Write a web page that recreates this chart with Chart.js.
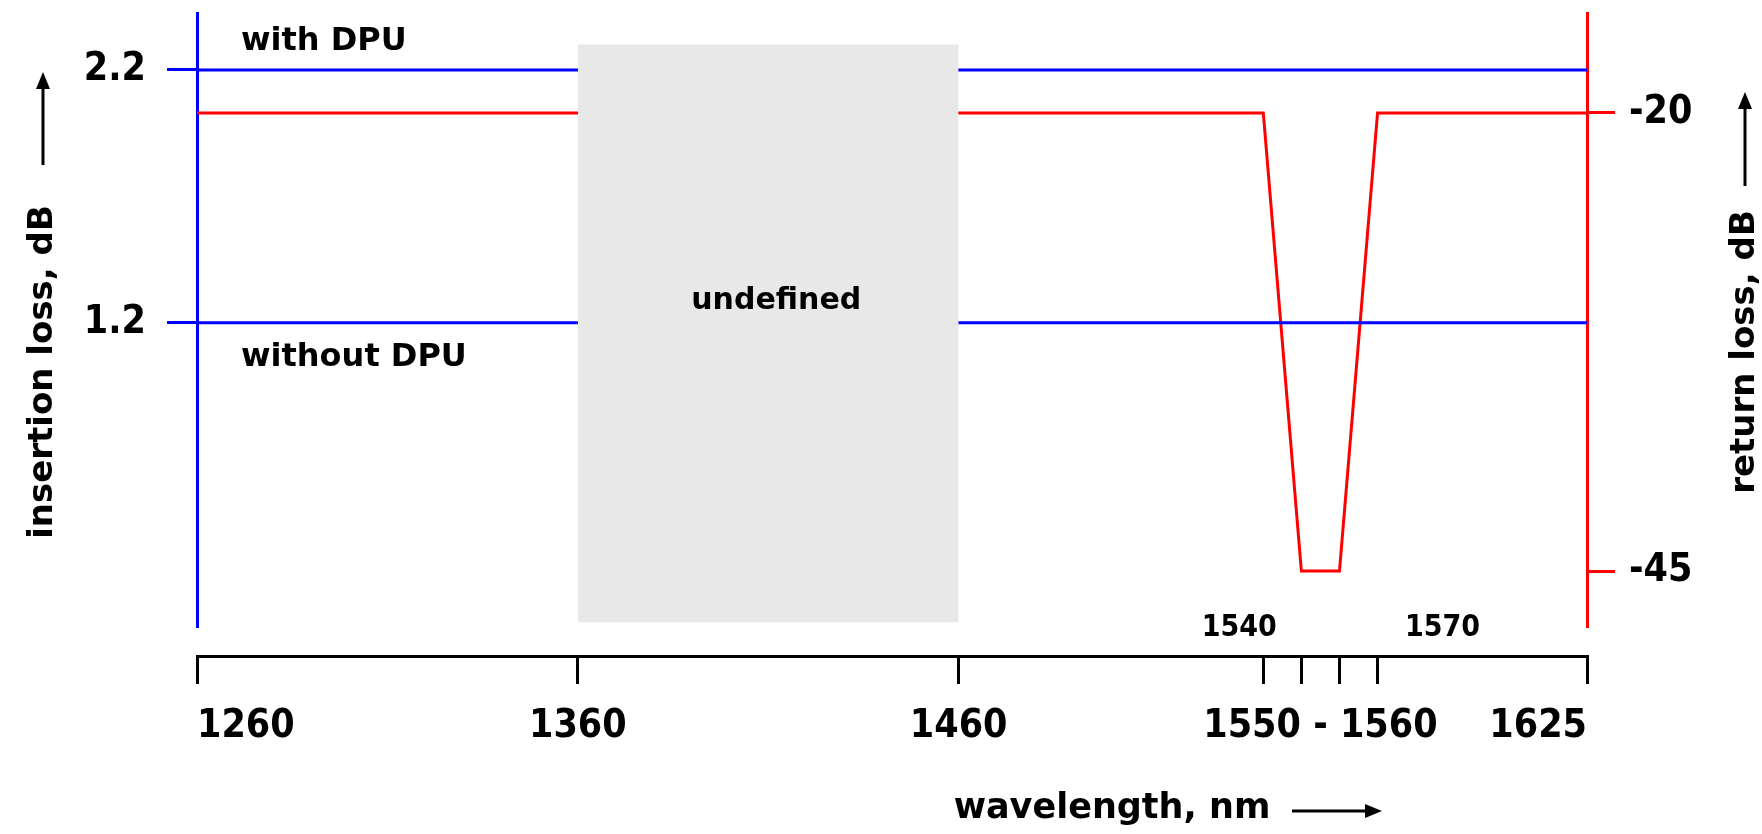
<!DOCTYPE html>
<html><head><meta charset="utf-8">
<script src="https://cdn.jsdelivr.net/npm/chart.js@4.4.1/dist/chart.umd.min.js"></script>
<style>html,body{margin:0;padding:0;background:#fff;overflow:hidden}canvas{display:block}</style>
</head><body>
<canvas id="c" width="1762" height="834" style="width:1762px;height:834px"></canvas>
<script>
// ---- data ----
const wavelengthRange = [1260, 1625];
const ilWavelengths = [1260, 1625];
const ilWithDpu = [2.2, 2.2];
const ilWithoutDpu = [1.2, 1.2];
const rlWavelengths = [1260, 1540, 1550, 1560, 1570, 1625];
const rlValues = [-20, -20, -45, -45, -20, -20];
const undefinedBand = [1360, 1460];
const undefinedTop = [2.30, 2.30];
const xTicks = [1260, 1360, 1460, 1540, 1550, 1555, 1560, 1570, 1625];
const xTickLabels = ['1260', '1360', '1460', '', '', '1550 - 1560', '', '', '1625'];
const bandEdgeLabels = ['1540', '1570'];
const ilTicks = [1.2, 2.2];
const rlTicks = [-45, -20];
const seriesNames = ['with DPU', 'without DPU', 'return loss', 'undefined'];

const BLUE = '#0000ff', RED = '#ff0000', GRAY = '#e8e8e8';
const NUM_FONT = '"DejaVu Sans Condensed", "Open Sans", sans-serif';
const WORD_FONT = '"DejaVu Sans", sans-serif';

function pts(xs, ys) { return xs.map((v, i) => ({x: v, y: ys[i]})); }

function arrow(ctx, x1, y1, x2, y2) {
  const ang = Math.atan2(y2 - y1, x2 - x1);
  const hl = 17, hw = 7;
  const bx = x2 - hl * Math.cos(ang), by = y2 - hl * Math.sin(ang);
  ctx.beginPath(); ctx.moveTo(x1, y1); ctx.lineTo(bx, by);
  ctx.lineWidth = 3; ctx.strokeStyle = '#000'; ctx.stroke();
  ctx.beginPath();
  ctx.moveTo(x2, y2);
  ctx.lineTo(bx + hw * Math.sin(ang), by - hw * Math.cos(ang));
  ctx.lineTo(bx - hw * Math.sin(ang), by + hw * Math.cos(ang));
  ctx.closePath(); ctx.fillStyle = '#000'; ctx.fill();
}

const annotations = {
  id: 'annotations',
  afterDraw(chart) {
    const {ctx, scales} = chart;
    const x = scales.x, yL = scales.yL;
    const ca = chart.chartArea;
    ctx.save();
    ctx.fillStyle = '#000';
    ctx.font = 'bold 32px ' + WORD_FONT;
    ctx.textAlign = 'left'; ctx.textBaseline = 'alphabetic';
    const lx = x.getPixelForValue(wavelengthRange[0]) + 44;
    ctx.fillText(seriesNames[0], lx, yL.getPixelForValue(ilWithDpu[0]) - 20);
    ctx.fillText(seriesNames[1], lx, yL.getPixelForValue(ilWithoutDpu[0]) + 43);
    // undefined band label
    ctx.font = 'bold 30px ' + WORD_FONT;
    ctx.textAlign = 'center'; ctx.textBaseline = 'middle';
    ctx.fillText(seriesNames[3], x.getPixelForValue((undefinedBand[0] + undefinedBand[1]) / 2) + 8, yL.getPixelForValue(ilWithoutDpu[0]) - 21);
    // band edge labels above axis
    ctx.font = 'bold 30px ' + NUM_FONT;
    ctx.fillText(bandEdgeLabels[0], x.getPixelForValue(1540) - 24, ca.bottom + 2);
    ctx.fillText(bandEdgeLabels[1], x.getPixelForValue(1570) + 65, ca.bottom + 2);
    // axis titles
    ctx.font = 'bold 34px ' + WORD_FONT;
    ctx.save(); ctx.translate(43, 372); ctx.rotate(-Math.PI / 2);
    ctx.fillText('insertion loss, dB', 0, 0); ctx.restore();
    arrow(ctx, 43, 165, 43, 72);
    ctx.save(); ctx.translate(1745, 352); ctx.rotate(-Math.PI / 2);
    ctx.fillText('return loss, dB', 0, 0); ctx.restore();
    arrow(ctx, 1745, 186, 1745, 92);
    ctx.font = 'bold 35px ' + WORD_FONT;
    ctx.fillText('wavelength, nm', 1112, 809);
    arrow(ctx, 1292, 811, 1382, 811);
    ctx.restore();
  }
};

function noPad(s) { s.paddingTop = 0; s.paddingBottom = 0; s.paddingLeft = 0; s.paddingRight = 0; }

const tickFont = {family: NUM_FONT, weight: 'bold', size: 39};

function build() {
  new Chart(document.getElementById('c'), {
    type: 'line',
    data: {
      datasets: [
        {label: seriesNames[3], data: pts(undefinedBand, undefinedTop), yAxisID: 'yL',
         fill: {value: 0.015}, backgroundColor: GRAY, borderWidth: 0, borderColor: GRAY, pointRadius: 0, order: 0},
        {label: seriesNames[0], data: pts(ilWavelengths, ilWithDpu), yAxisID: 'yL',
         borderColor: BLUE, borderWidth: 3, pointRadius: 0, fill: false, order: 1},
        {label: seriesNames[1], data: pts(ilWavelengths, ilWithoutDpu), yAxisID: 'yL',
         borderColor: BLUE, borderWidth: 3, pointRadius: 0, fill: false, order: 1},
        {label: seriesNames[2], data: pts(rlWavelengths, rlValues), yAxisID: 'yR',
         borderColor: RED, borderWidth: 3, pointRadius: 0, fill: false, order: 1, borderJoinStyle: 'miter'}
      ]
    },
    options: {
      responsive: false,
      animation: false,
      devicePixelRatio: 1,
      layout: {padding: {top: 13, bottom: 208, left: 0, right: 0}},
      plugins: {legend: {display: false}, tooltip: {enabled: false}},
      elements: {line: {tension: 0}},
      scales: {
        x: {
          type: 'linear', axis: 'x',
          min: wavelengthRange[0], max: wavelengthRange[1],
          position: {yL: -0.12},
          afterBuildTicks: s => { s.ticks = xTicks.map(v => ({value: v})); },
          afterFit: noPad,
          ticks: {
            callback: (v) => xTickLabels[xTicks.indexOf(v)],
            autoSkip: false, maxRotation: 0, minRotation: 0, align: 'inner',
            color: '#000', padding: 21, font: tickFont
          },
          grid: {
            drawOnChartArea: false, tickLength: 26, lineWidth: 3, tickWidth: 3,
            tickColor: c => (c.tick && c.tick.value === 1555) ? 'rgba(0,0,0,0)' : '#000'
          },
          border: {display: true, color: '#000', width: 3}
        },
        yL: {
          type: 'linear', position: 'left', min: 0, max: 2.425,
          afterBuildTicks: s => { s.ticks = ilTicks.map(v => ({value: v})); },
          afterFit: s => { s.width = 197; noPad(s); },
          ticks: {callback: v => v.toFixed(1), color: '#000', padding: 21, font: tickFont},
          grid: {drawOnChartArea: false, tickLength: 30, lineWidth: 3, tickWidth: 3, tickColor: BLUE},
          border: {display: true, color: BLUE, width: 3}
        },
        yR: {
          type: 'linear', position: 'right', min: -48, max: -14.55,
          afterBuildTicks: s => { s.ticks = rlTicks.map(v => ({value: v})); },
          afterFit: s => { s.width = 175; noPad(s); },
          ticks: {callback: v => String(v), color: '#000', padding: 14, font: tickFont},
          grid: {drawOnChartArea: false, tickLength: 28, lineWidth: 3, tickWidth: 3, tickColor: RED},
          border: {display: true, color: RED, width: 3}
        }
      }
    },
    plugins: [annotations]
  });
}

Promise.all([
  document.fonts.load('bold 39px "DejaVu Sans Condensed"'),
  document.fonts.load('bold 30px "DejaVu Sans"')
]).then(build, build);
</script></body></html>
